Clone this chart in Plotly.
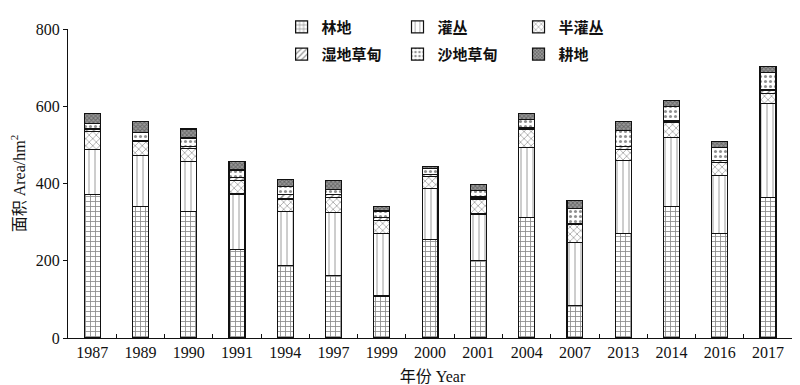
import plotly.graph_objects as go

years = ["1987", "1989", "1990", "1991", "1994", "1997", "1999", "2000",
         "2001", "2004", "2007", "2013", "2014", "2016", "2017"]

forest = [371, 340, 327, 230, 187, 161, 109, 255, 201, 313, 84, 271, 341, 271, 363]
shrub = [117, 133, 129, 143, 140, 164, 161, 133, 120, 181, 163, 188, 179, 149, 244]
semi_shrub = [46, 35, 34, 35, 33, 38, 35, 31, 39, 47, 46, 29, 38, 35, 25]
wet_meadow = [7, 4, 6, 7, 11, 8, 8, 4, 5, 3, 4, 8, 4, 4, 10]
sand_meadow = [15, 21, 22, 20, 21, 13, 16, 16, 16, 22, 38, 42, 38, 35, 45]
farmland = [26, 27, 23, 22, 19, 24, 12, 4, 16, 15, 22, 22, 14, 14, 15]

y_ticks = [0, 200, 400, 600, 800]

names = ["林地", "灌丛", "半灌丛", "湿地草甸", "沙地草甸", "耕地"]
series = [forest, shrub, semi_shrub, wet_meadow, sand_meadow, farmland]
patterns = [
    dict(shape="+", fgcolor="#111", bgcolor="white", size=5, solidity=0.3),
    dict(shape="|", fgcolor="#222", bgcolor="white", size=6, solidity=0.15),
    dict(shape="x", fgcolor="#222", bgcolor="white", size=5, solidity=0.25),
    dict(shape="/", fgcolor="#222", bgcolor="white", size=5, solidity=0.3),
    dict(shape=".", fgcolor="#222", bgcolor="white", size=5, solidity=0.3),
    dict(shape="x", fgcolor="#333", bgcolor="#999", size=3, solidity=0.5),
]
legend_ids = ["legend", "legend2", "legend3", "legend4", "legend5", "legend6"]
legend_x = [0.293, 0.452, 0.618, 0.293, 0.452, 0.618]
legend_y = [1.006, 1.006, 1.006, 0.918, 0.918, 0.918]

FONT = "Liberation Serif, Times New Roman, Noto Sans CJK SC, serif"

fig = go.Figure()
for name, vals, pat, lg in zip(names, series, patterns, legend_ids):
    fig.add_trace(go.Bar(
        x=years, y=vals, name=name, width=0.33,
        marker=dict(color="white", line=dict(color="#111", width=1.2), pattern=pat),
        legend=lg, hoverinfo="skip",
    ))

legend_layout = {}
for lg, lx, ly in zip(legend_ids, legend_x, legend_y):
    legend_layout[lg] = dict(
        x=lx, y=ly, xanchor="left", yanchor="middle", orientation="h",
        font=dict(family="Noto Sans CJK SC", size=15, color="#111", weight="bold"),
        bgcolor="rgba(0,0,0,0)", itemwidth=30,
    )

fig.update_layout(
    barmode="stack",
    width=792, height=377,
    margin=dict(l=52, r=3, t=6, b=45),
    paper_bgcolor="white", plot_bgcolor="white",
    font=dict(family=FONT, size=16, color="#111"),
    showlegend=True,
    xaxis=dict(
        type="category", showline=True, linecolor="#111", linewidth=1.2,
        ticks="inside", tickson="boundaries", ticklen=4, tickcolor="#111",
        showgrid=False, tickfont=dict(family=FONT, size=16),
        title=dict(text="年份 Year", font=dict(family=FONT, size=16), standoff=10),
        range=[-0.5, 14.6],
    ),
    yaxis=dict(
        range=[0, 800], tickvals=y_ticks, showline=True, linecolor="#111", linewidth=1.2,
        ticks="outside", ticklen=4, tickcolor="#111", showgrid=False, zeroline=False,
        tickfont=dict(family=FONT, size=16), ticklabeloverflow="allow",
        title=dict(text="面积 Area/hm<sup>2</sup>", font=dict(family=FONT, size=16), standoff=14),
    ),
    **legend_layout,
)

fig.write_html("out.html")
